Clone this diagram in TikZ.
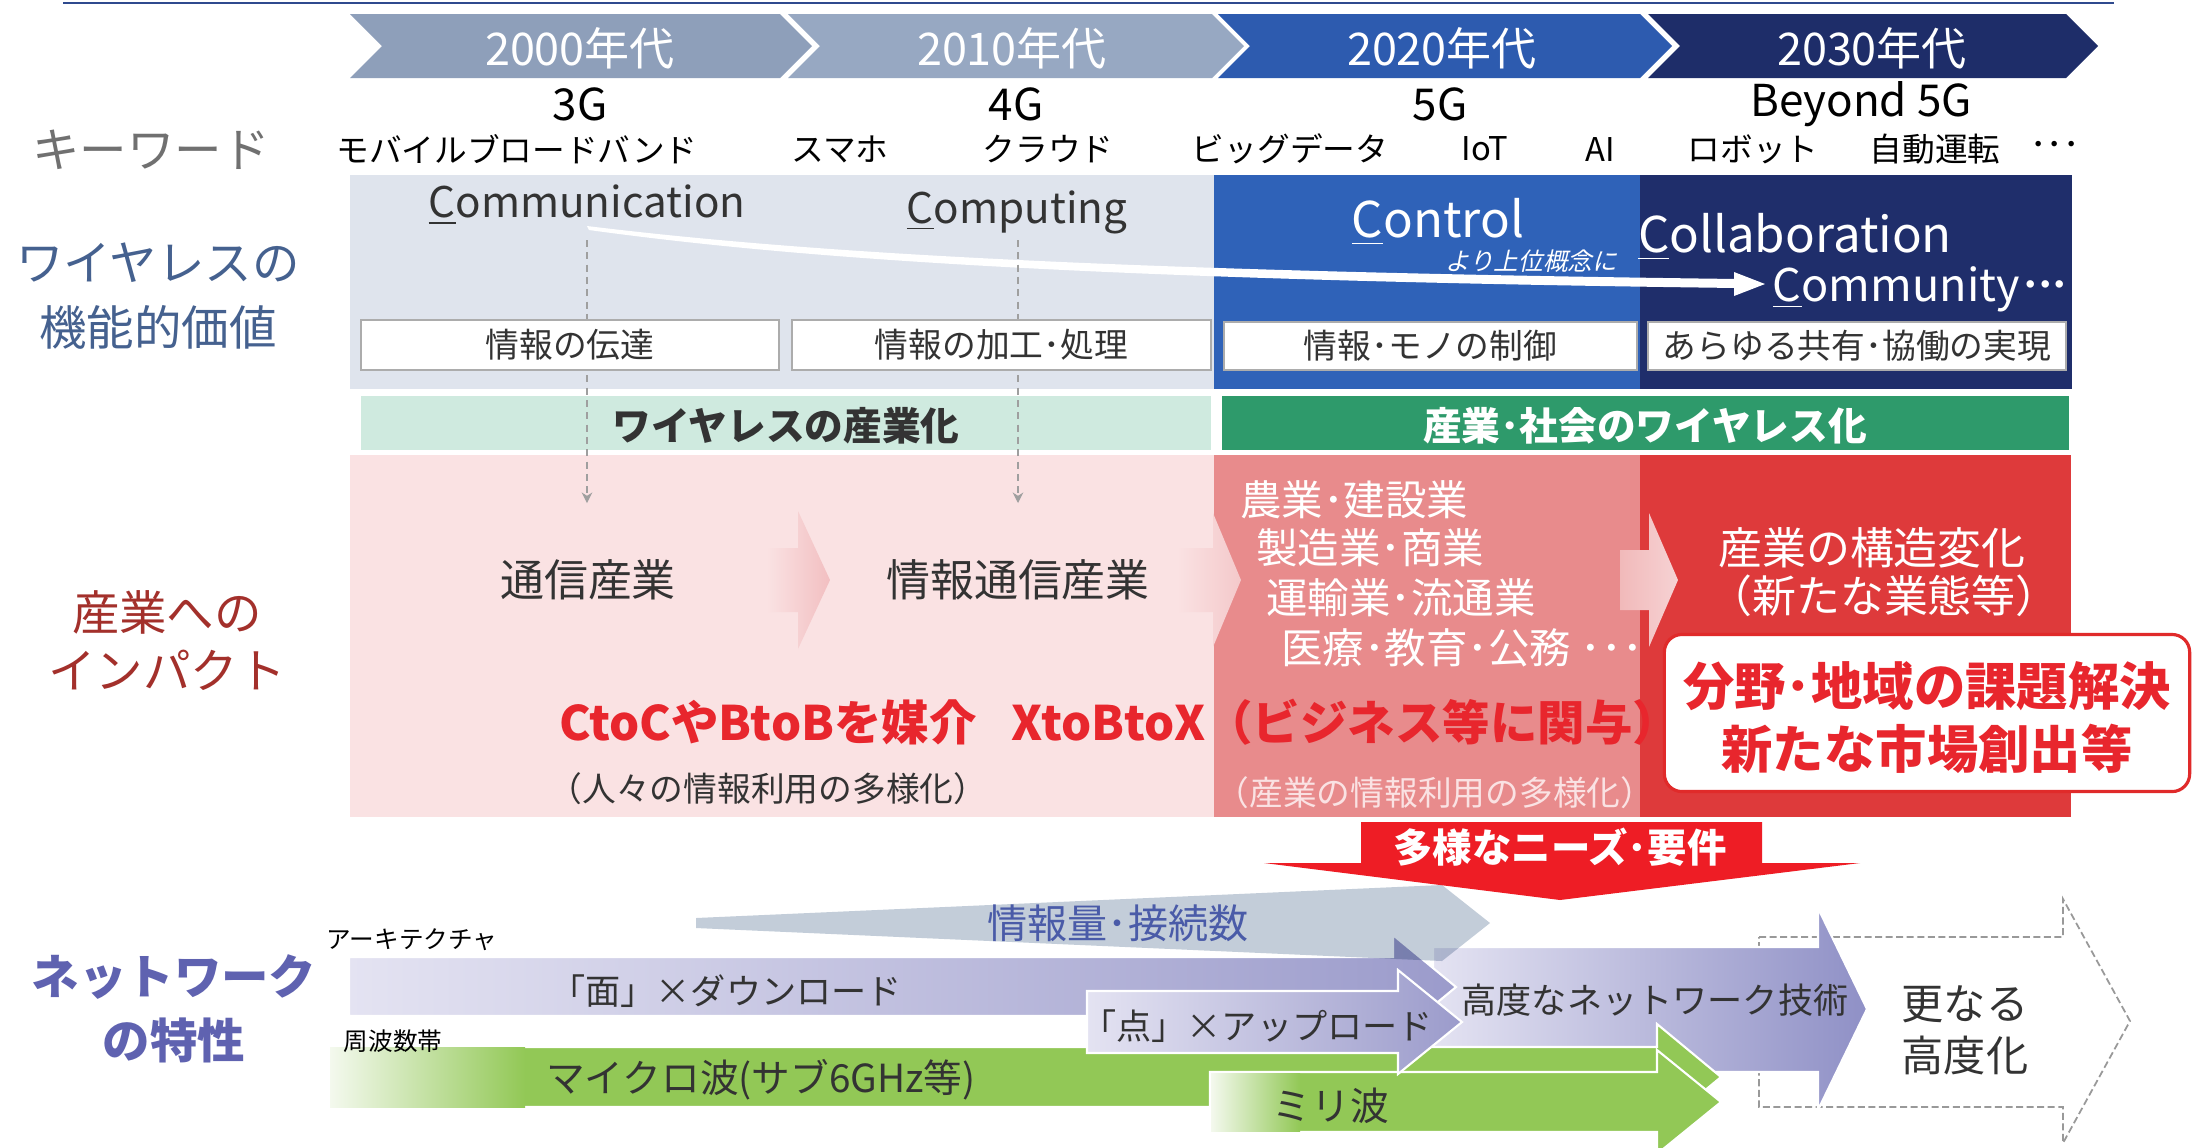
\documentclass[tikz,border=0pt]{standalone}
\usepackage{fontspec}
\setmainfont{Noto Sans CJK JP}
\newfontfamily\slcjk{Noto Sans CJK JP}[FakeSlant=0.22]
\usetikzlibrary{arrows.meta}
\definecolor{navyline}{HTML}{2F4A8E}
\definecolor{chA}{HTML}{8E9FBA}
\definecolor{chB}{HTML}{97A8C2}
\definecolor{chC}{HTML}{2D5BAF}
\definecolor{chD}{HTML}{1E2D69}
\definecolor{panelL}{HTML}{DFE4ED}
\definecolor{panelB}{HTML}{2F62B8}
\definecolor{panelN}{HTML}{1F2E6B}
\definecolor{mint}{HTML}{CFEADF}
\definecolor{dgreen}{HTML}{2E9A6B}
\definecolor{pinkL}{HTML}{FAE2E3}
\definecolor{salmon}{HTML}{E88B8C}
\definecolor{redP}{HTML}{DE3A3B}
\definecolor{labgrey}{HTML}{707070}
\definecolor{labblue}{HTML}{45618F}
\definecolor{labred}{HTML}{A3302B}
\definecolor{labpurple}{HTML}{5F62B0}
\definecolor{txtred}{HTML}{E8262D}
\definecolor{boxred}{HTML}{E02A2A}
\definecolor{needred}{HTML}{EE1D25}
\definecolor{greyarr}{HTML}{C3CDD9}
\definecolor{infoblue}{HTML}{4A5BA8}
\definecolor{greenA}{HTML}{92C856}
\definecolor{greenL}{HTML}{F4F9EE}
\definecolor{purL}{HTML}{E4E3F2}
\definecolor{purR}{HTML}{9B9BCB}
\definecolor{purR2}{HTML}{8F90C6}
\definecolor{pinkarrow}{HTML}{F2BFC1}
\definecolor{softtext}{HTML}{333333}
\newcommand\fz[1]{\fontsize{#1}{#1}\selectfont}
\newcommand\tdots{･\kern-0.18em･\kern-0.18em･}
\tikzset{
  lbl/.style={inner sep=0pt, outer sep=0pt, align=center},
  wbox/.style={draw=gray!65, fill=white, line width=0.4pt, inner sep=0pt, font=\fz{9.6pt}, text=softtext},
  dashline/.style={draw=gray!75, line width=0.35pt, dash pattern=on 2pt off 1.5pt, -{Stealth[length=3pt,width=3pt]}},
  wline/.style={draw=white, line width=0.6pt},
}
\begin{document}
\begin{tikzpicture}[x=0.01cm,y=-0.01cm]
\useasboundingbox (0,0) rectangle (2193,1147);
\fill[white] (0,0) rectangle (2193,1147);

% top rule
\coordinate (tl1) at (63,3); \coordinate (tl2) at (2114,3);
\draw[navyline, line width=0.6pt] (tl1) -- (tl2);

% decade chevrons
\fill[chA] (350,14) -- (780,14) -- (812,46) -- (780,78) -- (350,78) -- (382,46) -- cycle;
\fill[chB] (788,14) -- (1212,14) -- (1244,46) -- (1212,78) -- (788,78) -- (820,46) -- cycle;
\fill[chC] (1218,14) -- (1640,14) -- (1672,46) -- (1640,78) -- (1218,78) -- (1250,46) -- cycle;
\fill[chD] (1648,14) -- (2066,14) -- (2098,46) -- (2066,78) -- (1648,78) -- (1680,46) -- cycle;
\node[lbl, text=white, font=\fz{12.8pt}] (d2000) at (580,48) {2000年代};
\node[lbl, text=white, font=\fz{12.8pt}] (d2010) at (1012,48) {2010年代};
\node[lbl, text=white, font=\fz{12.8pt}] (d2020) at (1442,48) {2020年代};
\node[lbl, text=white, font=\fz{12.8pt}] (d2030) at (1872,48) {2030年代};

% keywords
\node[lbl, font=\fz{12.5pt}] (g3) at (580,104) {3G};
\node[lbl, font=\fz{12.5pt}] (g4) at (1016,104) {4G};
\node[lbl, font=\fz{12.5pt}] (g5) at (1440,104) {5G};
\node[lbl, font=\fz{12.5pt}] (g6) at (1861,104) {Beyond 5G};
\node[lbl, font=\fz{9.3pt}] (k1) at (517,149) {モバイルブロードバンド};
\node[lbl, font=\fz{9.3pt}] (k2) at (840,149) {スマホ};
\node[lbl, font=\fz{9.3pt}] (k3) at (1048,149) {クラウド};
\node[lbl, font=\fz{9.3pt}] (k4) at (1290,149) {ビッグデータ};
\node[lbl, font=\fz{9.3pt}] (k5) at (1485,149) {IoT};
\node[lbl, font=\fz{9.3pt}] (k6) at (1600,149) {AI};
\node[lbl, font=\fz{9.3pt}] (k7) at (1753,149) {ロボット};
\node[lbl, font=\fz{9.3pt}] (k8) at (1935,149) {自動運転};
\node[lbl, font=\fz{9.3pt}] (k9) at (2055,149) {･･･};

% left labels
\node[lbl, text=labgrey, font=\fz{13.5pt}] (lkw) at (151,150) {キーワード};
\node[lbl, text=labblue, font=\fontsize{13.5pt}{18.5pt}\selectfont] (lval) at (158,296) {ワイヤレスの\\機能的価値};
\node[lbl, text=labred, font=\fontsize{13.5pt}{16.5pt}\selectfont] (limp) at (167,641) {産業への\\インパクト};
\node[lbl, text=labpurple, font=\fontsize{13.5pt}{18.3pt}\selectfont\bfseries] (lnet) at (174,1009) {ネットワーク\\の特性};

% functional value panels
\fill[panelL] (350,175) rectangle (1214,389);
\fill[panelB] (1214,175) rectangle (1640,389);
\fill[panelN] (1640,175) rectangle (2072,389);

\node[lbl, text=softtext, font=\fz{12pt}] (comm) at (587,205) {\underline{C}ommunication};
\node[lbl, text=softtext, font=\fz{12pt}] (comp) at (1017,212) {\underline{C}omputing};
\node[lbl, text=white, font=\fz{14pt}] (ctrl) at (1438,222) {\underline{C}ontrol};
\node[lbl, text=white, font=\fz{7pt}\slcjk] (upper) at (1531,261) {より上位概念に};
\node[lbl, text=white, font=\fz{14pt}] (collab) at (1795,237) {\underline{C}ollaboration};
\node[lbl, text=white, font=\fz{12.8pt}] (commu) at (1922,289) {\underline{C}ommunity\tdots};

% white tapered curve arrow
\coordinate (cs) at (587,228);
\coordinate (ce) at (1765,284);
\fill[white] (587,226) .. controls (800,252) and (1100,271) .. (1738,279) -- (1738,288) .. controls (1100,280) and (800,259) .. (589,230) -- cycle;
\fill[white] (1734,272) -- (ce) -- (1734,296) -- cycle;

% bands
\fill[mint] (361,396) rectangle (1211,450);
\fill[dgreen] (1222,396) rectangle (2069,450);
\node[lbl, font=\fz{11pt}\bfseries, text=softtext] (band1) at (786,426) {ワイヤレスの産業化};
\node[lbl, font=\fz{11pt}\bfseries, text=white] (band2) at (1645,426) {産業･社会のワイヤレス化};

% impact panels
\fill[pinkL] (350,455) rectangle (1214,817);
\fill[salmon] (1214,455) rectangle (1640,817);
\fill[redP] (1640,455) rectangle (2071,817);

% dashed connectors
\coordinate (da1) at (587,240); \coordinate (db1) at (587,503);
\coordinate (da2) at (1018,240); \coordinate (db2) at (1018,503);
\draw[dashline] (da1) -- (db1);
\draw[dashline] (da2) -- (db2);

% function boxes
\node[wbox, minimum width=4.18cm, minimum height=0.5cm] (b1) at (570,345) {情報の伝達};
\node[wbox, minimum width=4.19cm, minimum height=0.5cm] (b2) at (1001.5,345) {情報の加工･処理};
\node[wbox, minimum width=4.13cm, minimum height=0.48cm] (b3) at (1430.5,346) {情報･モノの制御};
\node[wbox, minimum width=4.18cm, minimum height=0.48cm] (b4) at (1857,346) {あらゆる共有･協働の実現};

% pink transition arrows
\shade[left color=pinkL, right color=pinkarrow] (767,548) -- (798,548) -- (798,511) -- (830,580) -- (798,649) -- (798,612) -- (767,612) -- cycle;
\shade[left color=pinkL, right color=pinkarrow!85] (1177,548) -- (1213,548) -- (1213,513) -- (1241,580) -- (1213,647) -- (1213,612) -- (1177,612) -- cycle;
\shade[left color=salmon!60!white, right color=pinkarrow!70!white] (1620,550) -- (1649,550) -- (1649,513) -- (1678,580) -- (1649,647) -- (1649,610) -- (1620,610) -- cycle;

% impact texts
\node[lbl, font=\fz{12.5pt}, text=softtext] (tsu) at (588,580) {通信産業};
\node[lbl, font=\fz{12.5pt}, text=softtext] (jtsu) at (1018,580) {情報通信産業};
\node[lbl, anchor=west, font=\fz{11.8pt}, text=white] (ind1) at (1240,500) {農業･建設業};
\node[lbl, anchor=west, font=\fz{11.8pt}, text=white] (ind2) at (1256,548) {製造業･商業};
\node[lbl, anchor=west, font=\fz{11.8pt}, text=white] (ind3) at (1266,598) {運輸業･流通業};
\node[lbl, anchor=west, font=\fz{11.8pt}, text=white] (ind4) at (1281,648) {医療･教育･公務 ･･･};
\node[lbl, font=\fz{12.5pt}, text=white] (struct) at (1872,548) {産業の構造変化};
\node[lbl, font=\fz{12.5pt}, text=white] (newbiz) at (1884,596) {（新たな業態等）};
\node[lbl, font=\fz{13.5pt}\bfseries, text=txtred] (ctoc) at (768,722) {CtoCやBtoBを媒介};
\node[lbl, font=\fz{9.6pt}, text=softtext] (people) at (768,789) {（人々の情報利用の多様化）};
\node[lbl, font=\fz{13.5pt}\bfseries, text=txtred] (xtob) at (1346,722) {XtoBtoX（ビジネス等に関与）};
\node[lbl, font=\fz{9.6pt}, text=pinkL] (indus) at (1435,793) {（産業の情報利用の多様化）};
\node[draw=boxred, line width=0.9pt, fill=white, rounded corners=5pt, minimum width=5.25cm, minimum height=1.57cm, inner sep=0pt] (solve) at (1927,713) {};
\node[lbl, font=\fontsize{14.6pt}{17.9pt}\selectfont\bfseries, text=txtred] (solvet) at (1927,718) {分野･地域の課題解決\\新たな市場創出等};

% network characteristics
\draw[draw=gray!80, line width=0.5pt, dash pattern=on 2pt off 1pt, fill=white] (1759,937) -- (2063,937) -- (2063,899) -- (2130,1021) -- (2063,1143) -- (2063,1107) -- (1759,1107) -- cycle;
\shadedraw[left color=purL, right color=purR2, wline] (1433,947) -- (1818,947) -- (1818,908) -- (1867,1009) -- (1818,1110) -- (1818,1072) -- (1433,1072) -- cycle;
\filldraw[fill=greenA, wline] (330,1047) -- (1657,1047) -- (1657,1024) -- (1721,1077) -- (1657,1130) -- (1657,1107) -- (330,1107) -- cycle;
\shade[left color=greenL, right color=greenA] (330,1047) rectangle (525,1107);
\filldraw[fill=greenA, wline] (1210,1072) -- (1657,1072) -- (1657,1050) -- (1721,1102) -- (1657,1154) -- (1657,1132) -- (1210,1132) -- cycle;
\shade[left color=greenL, right color=greenA] (1211,1073) rectangle (1300,1131);
\shadedraw[left color=purL, right color=purR, wline] (349,957) -- (1393,957) -- (1393,935) -- (1456,987) -- (1393,1039) -- (1393,1016) -- (349,1016) -- cycle;
\shadedraw[left color=purL, right color=purR, wline] (1087,991) -- (1398,991) -- (1398,970) -- (1462,1022) -- (1398,1074) -- (1398,1053) -- (1087,1053) -- cycle;
\fill[greyarr, blend mode=multiply] (696,918) -- (1442,885) -- (1490,923) -- (1442,961) -- (696,928) -- cycle;
\fill[needred] (1361,822) -- (1762,822) -- (1762,863) -- (1860,863) -- (1560,900) -- (1264,863) -- (1361,863) -- cycle;

\node[lbl, font=\fz{11.2pt}\bfseries, text=white] (needs) at (1560,847) {多様なニーズ･要件};
\node[lbl, font=\fz{11.4pt}, text=infoblue] (info) at (1118,923) {情報量･接続数};
\node[lbl, font=\fz{7pt}] (arch) at (412,940) {アーキテクチャ};
\node[lbl, font=\fz{7pt}] (freq) at (393,1041) {周波数帯};
\node[lbl, font=\fz{10pt}, text=softtext] (men) at (726,991) {「面」×ダウンロード};
\node[lbl, font=\fz{10pt}, text=softtext] (ten) at (1257,1026) {「点」×アップロード};
\node[lbl, font=\fz{11pt}, text=softtext] (micro) at (761,1080) {マイクロ波(サブ6GHz等)};
\node[lbl, font=\fz{11pt}, text=softtext] (milli) at (1331,1106) {ミリ波};
\node[lbl, font=\fz{10pt}, text=softtext] (adv) at (1655,1000) {高度なネットワーク技術};
\node[lbl, font=\fontsize{12pt}{14.8pt}\selectfont, text=softtext] (further) at (1965,1030) {更なる\\高度化};
\end{tikzpicture}
\end{document}
